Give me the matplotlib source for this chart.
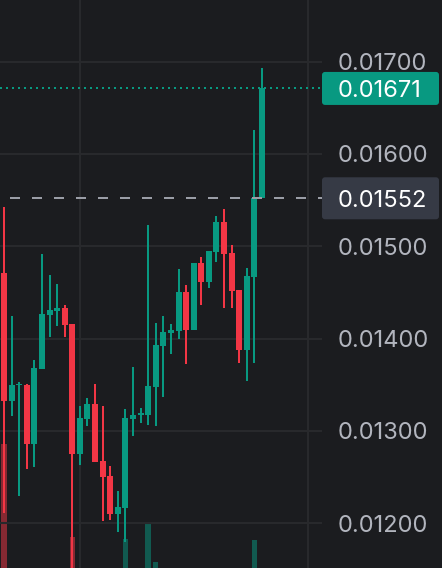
import matplotlib
matplotlib.use("Agg")
import matplotlib.pyplot as plt
from matplotlib.patches import FancyBboxPatch
import numpy as np

# candle data, oldest -> newest
opens = [0.014714, 0.013327, 0.013492, 0.013497, 0.012861, 0.013674, 0.014256, 0.014299, 0.014331, 0.014158,
         0.012753, 0.013132, 0.013291, 0.012677, 0.012515, 0.012103, 0.012168, 0.013132, 0.013172, 0.013176,
         0.013479, 0.013923, 0.014064, 0.014086, 0.014505, 0.014096, 0.014819, 0.014616, 0.014941, 0.015263,
         0.014927, 0.014527, 0.013880, 0.014671, 0.015520]
highs = [0.015426, 0.014245, 0.013530, 0.013511, 0.013768, 0.014917, 0.014689, 0.014592, 0.014364, 0.014158,
         0.013270, 0.013356, 0.013508, 0.013270, 0.012623, 0.012352, 0.013237, 0.013692, 0.013248, 0.015231,
         0.014169, 0.014245, 0.014158, 0.014754, 0.014581, 0.014819, 0.014884, 0.014949, 0.015328, 0.015404,
         0.015014, 0.014527, 0.014765, 0.016260, 0.016932]
lows = [0.012114, 0.013165, 0.012298, 0.012590, 0.012612, 0.013674, 0.014021, 0.014137, 0.014021, 0.011400,
        0.012634, 0.013056, 0.012666, 0.012027, 0.012038, 0.011908, 0.011800, 0.012948, 0.013089, 0.013067,
        0.013056, 0.013371, 0.013836, 0.013999, 0.013728, 0.014096, 0.014367, 0.014551, 0.014833, 0.014335,
        0.014335, 0.013739, 0.013544, 0.013732, 0.015520]
closes = [0.013327, 0.013497, 0.013508, 0.012861, 0.013681, 0.014266, 0.014310, 0.014331, 0.014147, 0.012753,
          0.013140, 0.013291, 0.012666, 0.012504, 0.012103, 0.012179, 0.013140, 0.013172, 0.013194, 0.013486,
          0.013931, 0.014072, 0.014093, 0.014505, 0.014096, 0.014819, 0.014616, 0.014949, 0.015263, 0.014920,
          0.014519, 0.013880, 0.014678, 0.015520, 0.016710]
volumes = [184, 40, 35, 30, 42, 50, 28, 20, 18, 91,
           45, 30, 38, 33, 30, 25, 89, 40, 22, 105,
           66, 45, 20, 40, 35, 48, 30, 38, 44, 50,
           36, 45, 55, 88, 58]

last_price = 0.01671
prev_close = 0.01552
price_ticks = [0.012, 0.013, 0.014, 0.015, 0.016, 0.017]

bg = '#1b1c1f'
up = '#089981'
down = '#f23645'
grid_col = '#28292c'
text_col = '#b2b5be'

plt.rcParams['font.family'] = ['Inter', 'DejaVu Sans']

fig = plt.figure(figsize=(4.42, 5.68), dpi=100, facecolor=bg)
ax = fig.add_axes([0, 0, 322 / 442, 1])
vax = ax.twinx()
ax.set_zorder(vax.get_zorder() + 1)
ax.patch.set_visible(False)
vax.set_facecolor(bg)

x = np.arange(len(opens))
o = np.array(opens)
c = np.array(closes)
colors = [up if cc >= oo else down for oo, cc in zip(o, c)]

# volume, only the tallest bars reach into view
vax.bar(x, volumes, width=0.72, color=colors, alpha=0.5, zorder=1)
vax.set_ylim(60, 628)
vax.set_yticks([])
for s in vax.spines.values():
    s.set_visible(False)

# candles
ax.vlines(x, lows, highs, colors=colors, linewidth=1.44, zorder=3)
body_h = np.maximum(np.abs(c - o), 0.00002)
ax.bar(x, body_h, bottom=np.minimum(o, c), width=0.79, color=colors, zorder=4)

ax.axhline(last_price, color=up, linewidth=1.44, linestyle=(0, (1, 2)), zorder=5)
ax.axhline(prev_close, color='#9a9da6', linewidth=1.44, linestyle=(6, (5, 6)), zorder=5)

ax.set_xlim(-0.527, 41.91)
ax.set_ylim(0.011515, 0.017668)
ax.set_xticks([10, 40])
ax.set_yticks(price_ticks)
ax.set_yticklabels(['%.5f' % p for p in price_ticks])
ax.yaxis.tick_right()
ax.tick_params(axis='y', length=0, pad=11.5, labelsize=17, labelcolor=text_col)
ax.tick_params(axis='x', length=0, labelbottom=False)
ax.grid(True, color=grid_col, linewidth=1.5, zorder=0)
for s in ax.spines.values():
    s.set_visible(False)

# price labels on the scale
for price, fc in [(last_price, up), (prev_close, '#363a45')]:
    y_in = ax.transData.transform((0, price))[1] / fig.dpi
    h = 0.33 if fc == up else 0.42
    box = FancyBboxPatch((3.22, y_in - h / 2), 1.17, h, boxstyle='round,pad=0,rounding_size=0.03',
                         transform=fig.dpi_scale_trans, facecolor=fc, edgecolor='none', zorder=10)
    fig.add_artist(box)
    fig.text(3.38, y_in, '%.5f' % price, transform=fig.dpi_scale_trans, color='white',
             fontsize=17, va='center_baseline', ha='left', zorder=11)

fig.savefig('out.png', dpi=100, facecolor=bg)
